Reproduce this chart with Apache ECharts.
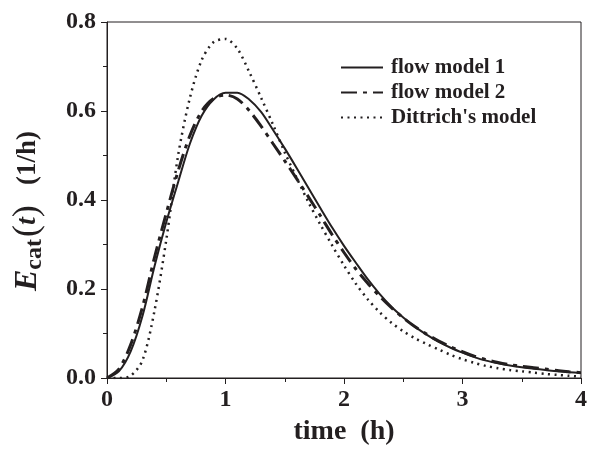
<!DOCTYPE html>
<html>
<head>
<meta charset="utf-8">
<script src="https://cdn.jsdelivr.net/npm/echarts@6/dist/echarts.min.js"></script>
<style>
  html, body { margin: 0; padding: 0; background: #fff; }
  #main { width: 590px; height: 456px; }
</style>
</head>
<body>
<div id="main"></div>
<script>
// time axis (h), 0.1 step
var times = [];
for (var i = 0; i <= 40; i++) times.push(+(i / 10).toFixed(1));

// E_cat(t) values
var flowModel1 = [0, 0.015, 0.06, 0.14, 0.25, 0.35, 0.44, 0.527, 0.59, 0.626, 0.641,
  0.641, 0.626, 0.598, 0.558, 0.516, 0.472, 0.427, 0.382, 0.338, 0.297,
  0.259, 0.222, 0.189, 0.160, 0.136, 0.115, 0.097, 0.081, 0.068, 0.057,
  0.047, 0.039, 0.033, 0.028, 0.024, 0.021, 0.018, 0.015, 0.013, 0.011];
var flowModel2 = [0, 0.02, 0.075, 0.16, 0.27, 0.37, 0.465, 0.545, 0.60, 0.628, 0.636,
  0.627, 0.601, 0.566, 0.527, 0.488, 0.448, 0.407, 0.365, 0.322, 0.282,
  0.245, 0.213, 0.184, 0.158, 0.135, 0.115, 0.098, 0.083, 0.070, 0.059,
  0.049, 0.041, 0.035, 0.030, 0.026, 0.023, 0.020, 0.017, 0.014, 0.012];
var dittrich = [0, 0, 0.005, 0.04, 0.15, 0.31, 0.50, 0.63, 0.715, 0.755, 0.762,
  0.74, 0.688, 0.63, 0.57, 0.507, 0.45, 0.395, 0.345, 0.298, 0.253,
  0.212, 0.177, 0.148, 0.124, 0.105, 0.089, 0.076, 0.064, 0.052, 0.042,
  0.034, 0.027, 0.022, 0.018, 0.015, 0.012, 0.009, 0.007, 0.005, 0.003];

var seriesNames = ['flow model 1', 'flow model 2', "Dittrich's model"];

function pairs(ys) {
  return times.map(function (t, k) { return [t, ys[k]]; });
}

var ink = '#231f20';
var serif = 'Liberation Serif';

var myChart = echarts.init(document.getElementById('main'));
var option = {
  animation: false,
  grid: {
    left: 107, right: 5, top: 22, bottom: 78,
    show: true, borderColor: ink, borderWidth: 1, backgroundColor: 'transparent'
  },
  legend: {
    orient: 'vertical',
    left: 335, top: 52,
    itemWidth: 42, itemHeight: 14, itemGap: 4,
    data: seriesNames,
    itemStyle: { opacity: 0 },
    textStyle: { fontFamily: serif, fontWeight: 'bold', fontSize: 21, color: ink, padding: [0, 0, 0, 3] }
  },
  xAxis: {
    type: 'value', min: 0, max: 4, interval: 1,
    name: 'time  (h)', nameLocation: 'middle', nameGap: 40,
    nameTextStyle: { fontFamily: serif, fontWeight: 'bold', fontSize: 28, color: ink },
    axisLine: { lineStyle: { color: ink, width: 1 } },
    axisTick: { show: true, inside: false, length: 6, lineStyle: { color: ink } },
    minorTick: { show: true, splitNumber: 2, length: 4, lineStyle: { color: ink } },
    axisLabel: { fontFamily: serif, fontWeight: 'bold', fontSize: 24, color: ink, margin: 10 },
    splitLine: { show: false }
  },
  yAxis: {
    type: 'value', min: 0, max: 0.8, interval: 0.2,
    name: '{e|E}{sub|cat}{q|(}{t|t}{q|)}{p|   (1/h)}{gap|}',
    nameLocation: 'middle', nameGap: 60, nameRotate: 90,
    nameTextStyle: {
      color: ink,
      rich: {
        e: { fontFamily: serif, fontStyle: 'italic', fontWeight: 'bold', fontSize: 32, color: ink },
        sub: { fontFamily: serif, fontWeight: 'bold', fontSize: 24, color: ink, padding: [14, 2, 0, 0] },
        q: { fontFamily: serif, fontWeight: 'normal', fontSize: 36, color: ink },
        t: { fontFamily: serif, fontStyle: 'italic', fontWeight: 'bold', fontSize: 28, color: ink },
        p: { fontFamily: serif, fontWeight: 'bold', fontSize: 27, color: ink },
        gap: { width: 22 }
      }
    },
    axisLine: { show: true, lineStyle: { color: ink, width: 1 } },
    axisTick: { show: true, inside: false, length: 6, lineStyle: { color: ink } },
    minorTick: { show: true, splitNumber: 2, length: 4, lineStyle: { color: ink } },
    axisLabel: {
      fontFamily: serif, fontWeight: 'bold', fontSize: 24, color: ink, margin: 11,
      formatter: function (v) { return v.toFixed(1); }
    },
    splitLine: { show: false }
  },
  series: [
    {
      name: seriesNames[0], type: 'line', data: pairs(flowModel1),
      smooth: 0.3, showSymbol: false, symbol: 'none',
      lineStyle: { color: ink, width: 2, type: 'solid' },
      itemStyle: { color: ink }
    },
    {
      name: seriesNames[1], type: 'line', data: pairs(flowModel2),
      smooth: 0.3, showSymbol: false, symbol: 'none',
      lineStyle: { color: ink, width: 3, type: [16, 6, 4, 6] },
      itemStyle: { color: ink }
    },
    {
      name: seriesNames[2], type: 'line', data: pairs(dittrich),
      smooth: 0.3, showSymbol: false, symbol: 'none',
      lineStyle: { color: ink, width: 2.5, type: [2, 4.5] },
      itemStyle: { color: ink }
    }
  ]
};
option && myChart.setOption(option);
window.addEventListener('resize', function () { myChart.resize(); });
</script>
</body>
</html>
